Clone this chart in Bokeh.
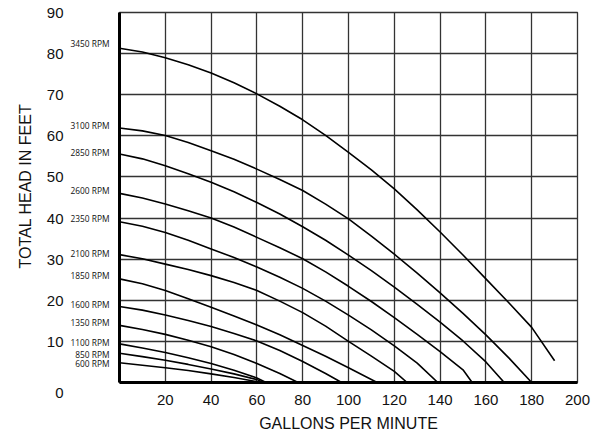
from bokeh.plotting import figure
from bokeh.models import FixedTicker, Range1d, LinearAxis, Title
from bokeh.embed import file_html
from bokeh.resources import INLINE

# ---------------- data ----------------
rpm_labels = ["3450 RPM", "3100 RPM", "2850 RPM", "2600 RPM", "2350 RPM", "2100 RPM",
              "1850 RPM", "1600 RPM", "1350 RPM", "1100 RPM", "850 RPM", "600 RPM"]
label_head = [82.4, 62.4, 55.9, 46.6, 40.0, 31.4, 26.0, 18.9, 14.5, 9.7, 6.9, 4.7]

gpm_3450 = [0, 10, 20, 30, 40, 50, 60, 70, 80, 90, 100, 110, 120, 130, 140, 150, 160, 170, 180, 190]
head_3450 = [81.3, 80.4, 79.0, 77.3, 75.3, 72.9, 70.2, 67.2, 63.9, 60.1, 56.0, 51.7, 47.1, 42.0, 36.6, 31.0, 25.2, 19.4, 13.4, 5.3]

gpm_3100 = [0, 10, 20, 30, 40, 50, 60, 70, 80, 90, 100, 110, 120, 130, 140, 150, 160, 170, 180]
head_3100 = [61.9, 61.2, 60.1, 58.4, 56.4, 54.3, 51.9, 49.4, 46.7, 43.4, 39.8, 35.6, 31.2, 26.6, 21.8, 16.8, 11.6, 6.0, 0.0]

gpm_2850 = [0, 10, 20, 30, 40, 50, 60, 70, 80, 90, 100, 110, 120, 130, 140, 150, 160, 168]
head_2850 = [55.6, 54.4, 52.7, 50.8, 48.7, 46.4, 43.8, 41.0, 37.9, 34.6, 31.0, 27.2, 23.2, 19.0, 14.7, 10.1, 5.0, 0.0]

gpm_2600 = [0, 10, 20, 30, 40, 50, 60, 70, 80, 90, 100, 110, 120, 130, 140, 150, 154]
head_2600 = [46.0, 44.9, 43.4, 41.8, 40.0, 37.8, 35.3, 32.8, 30.1, 26.9, 23.4, 19.7, 15.8, 11.7, 7.5, 3.1, 0.0]

gpm_2350 = [0, 10, 20, 30, 40, 50, 60, 70, 80, 90, 100, 110, 120, 130, 139]
head_2350 = [39.1, 38.0, 36.5, 34.6, 32.5, 30.4, 28.1, 25.6, 22.9, 19.8, 16.4, 12.8, 8.9, 4.7, 0.0]

gpm_2100 = [0, 10, 20, 30, 40, 50, 60, 70, 80, 90, 100, 110, 120, 125.6]
head_2100 = [31.1, 30.1, 28.8, 27.5, 26.0, 24.3, 22.4, 19.8, 17.0, 13.7, 10.0, 6.4, 2.7, 0.0]

gpm_1850 = [0, 10, 20, 30, 40, 50, 60, 70, 80, 90, 100, 112.5]
head_1850 = [25.2, 24.0, 22.4, 20.4, 18.3, 16.2, 14.0, 11.6, 9.0, 6.4, 3.6, 0.0]

gpm_1600 = [0, 10, 20, 30, 40, 50, 60, 70, 80, 90, 97]
head_1600 = [18.5, 17.6, 16.4, 15.1, 13.6, 11.9, 10.1, 7.8, 5.1, 2.2, 0.0]

gpm_1350 = [0, 10, 20, 30, 40, 50, 60, 70, 78]
head_1350 = [13.9, 12.9, 11.7, 10.3, 8.7, 6.8, 4.6, 2.2, 0.0]

gpm_1100 = [0, 10, 20, 30, 40, 50, 60, 64]
head_1100 = [9.4, 8.4, 7.3, 6.0, 4.6, 3.0, 1.1, 0.0]

gpm_850 = [0, 10, 20, 30, 40, 50, 60, 63]
head_850 = [7.1, 6.3, 5.4, 4.4, 3.3, 2.1, 0.7, 0.0]

gpm_600 = [0, 10, 20, 30, 40, 50, 60, 61]
head_600 = [4.8, 4.2, 3.6, 2.9, 2.1, 1.2, 0.2, 0.0]

x_ticks = [20, 40, 60, 80, 100, 120, 140, 160, 180, 200]
y_ticks = [0, 10, 20, 30, 40, 50, 60, 70, 80, 90]
x_grid = [0, 20, 40, 60, 80, 100, 120, 140, 160, 180, 200]
y_grid = [0, 10, 20, 30, 40, 50, 60, 70, 80, 90]

curves = [(gpm_3450, head_3450), (gpm_3100, head_3100), (gpm_2850, head_2850),
          (gpm_2600, head_2600), (gpm_2350, head_2350), (gpm_2100, head_2100),
          (gpm_1850, head_1850), (gpm_1600, head_1600), (gpm_1350, head_1350),
          (gpm_1100, head_1100), (gpm_850, head_850), (gpm_600, head_600)]

# ---------------- figure ----------------
p = figure(width=591, height=438, output_backend="svg", toolbar_location=None,
           x_range=Range1d(0, 200), y_range=Range1d(0, 90),
           min_border_left=119, min_border_right=14, min_border_top=12, min_border_bottom=56)
p.background_fill_color = "white"
p.border_fill_color = "white"
p.outline_line_color = "#333333"
p.outline_line_width = 1.3

p.xgrid.ticker = FixedTicker(ticks=x_grid)
p.ygrid.ticker = FixedTicker(ticks=y_grid)
for g in (p.xgrid, p.ygrid):
    g.grid_line_color = "#333333"
    g.grid_line_width = 1.3
    g.grid_line_alpha = 1.0

# bottom axis: gallons per minute
xa = p.xaxis[0]
xa.ticker = FixedTicker(ticks=x_ticks)
xa.major_tick_line_color = None
xa.minor_tick_line_color = None
xa.axis_line_color = "black"
xa.axis_line_width = 3
xa.major_label_text_font = "Liberation Sans"
xa.major_label_text_font_size = "15px"
xa.major_label_text_color = "#111111"
xa.major_label_standoff = 6

# inner left axis: RPM curve labels
ra = p.yaxis[0]
ra.ticker = FixedTicker(ticks=label_head)
ra.major_label_overrides = {h: t for h, t in zip(label_head, rpm_labels)}
ra.major_tick_line_color = None
ra.minor_tick_line_color = None
ra.axis_line_color = "black"
ra.axis_line_width = 3
ra.major_label_text_font = "Open Sans"
ra.major_label_text_font_size = "8.4px"
ra.major_label_text_color = "#111111"
ra.major_label_standoff = 4

# outer left axis: head values
ha = LinearAxis(ticker=FixedTicker(ticks=y_ticks))
ha.major_label_overrides = {0: "\n0"}
ha.major_tick_line_color = None
ha.minor_tick_line_color = None
ha.axis_line_color = None
ha.major_label_text_font = "Liberation Sans"
ha.major_label_text_font_size = "15px"
ha.major_label_text_color = "#111111"
ha.major_label_standoff = -2
p.add_layout(ha, "left")

for xs, hs in curves:
    p.line(xs, hs, line_color="black", line_width=1.6)

p.add_layout(Title(text="TOTAL HEAD IN FEET", align="left", offset=114, standoff=20,
                   text_font="Liberation Sans", text_font_size="16px",
                   text_font_style="normal", text_color="#111111"), "left")
p.add_layout(Title(text="GALLONS PER MINUTE", align="center", standoff=10,
                   text_font="Liberation Sans", text_font_size="16px",
                   text_font_style="normal", text_color="#111111"), "below")

open("out.html", "w").write(file_html(p, INLINE))
